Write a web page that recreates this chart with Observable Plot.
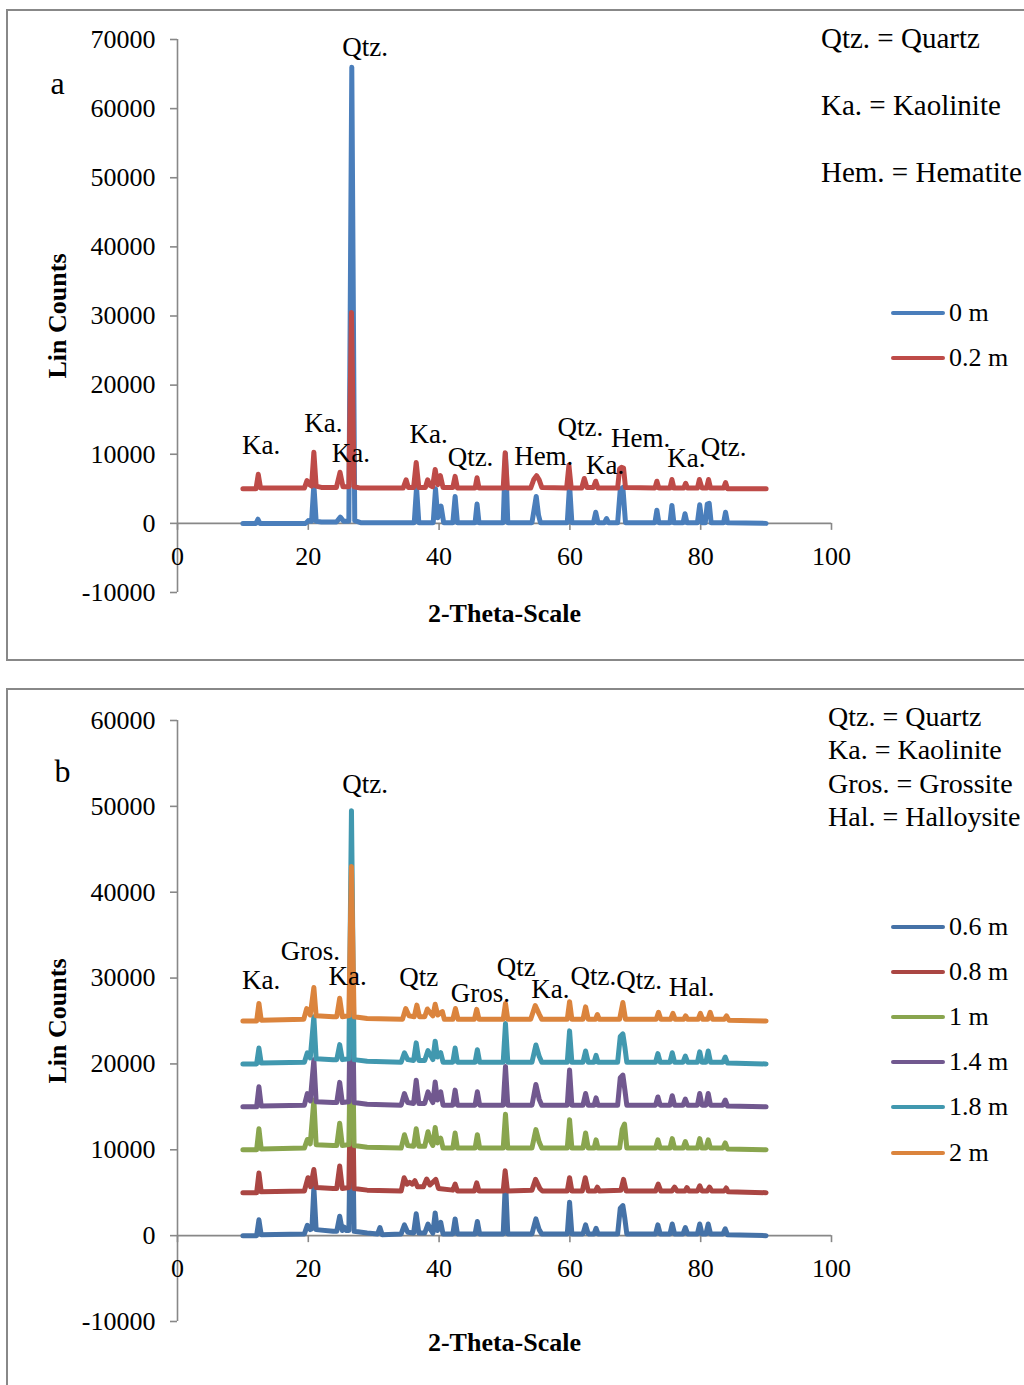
<!DOCTYPE html>
<html>
<head>
<meta charset="utf-8">
<script src="https://cdn.jsdelivr.net/npm/d3@7"></script>
<script src="https://cdn.jsdelivr.net/npm/@observablehq/plot@0.6"></script>
<style>
  html, body { margin: 0; padding: 0; background: #fff; }
  #page { position: relative; width: 1024px; height: 1385px; overflow: hidden;
          font-family: "Liberation Serif", "Times New Roman", serif; color: #000; }
  .frame { position: absolute; border: 2px solid #888; box-sizing: border-box; }
  .svgwrap { position: absolute; left: 0; }
  .key { position: absolute; white-space: nowrap; line-height: 32px; height: 32px; }
  .sw { position: absolute; height: 4px; border-radius: 2px; }
  .lt { position: absolute; font-size: 26px; white-space: nowrap; line-height: 30px; height: 30px; }
</style>
</head>
<body>
<div id="page">
  <div class="frame" style="left:6px;top:9px;width:1040px;height:652px;"></div>
  <div class="frame" style="left:6px;top:688px;width:1040px;height:740px;"></div>
  <div class="svgwrap" id="pa" style="top:0px;"></div>
  <div class="svgwrap" id="pb" style="top:689px;"></div>
</div>
<script>
// ---------- shared axis values ----------
const xTicks = [0, 20, 40, 60, 80, 100];
const yTicksA = [-10000, 0, 10000, 20000, 30000, 40000, 50000, 60000, 70000];
const yTicksB = [-10000, 0, 10000, 20000, 30000, 40000, 50000, 60000];

// ---------- panel a ----------
const seriesNamesA = ["0 m", "0.2 m"];
const colorsA = ["#4A7EBB", "#BE4B48"];
const keyA = ["Qtz. = Quartz", "Ka. = Kaolinite", "Hem. = Hematite"];
const labelsA = [
  ["Qtz.", 28.7, 68850], ["Ka.", 12.8, 11280], ["Ka.", 22.3, 14460], ["Ka.", 26.5, 10120],
  ["Ka.", 38.4, 12870], ["Qtz.", 44.8, 9550], ["Hem.", 56.0, 9690], ["Qtz.", 61.6, 13880],
  ["Hem.", 70.8, 12290], ["Ka.", 65.4, 8390], ["Ka.", 77.8, 9400], ["Qtz.", 83.5, 10990]
];
const a0m = [
  [10,0],[12.0,0],[12.3,600],[12.6,0],
  [19.6,0],[20.0,400],[20.5,300],[20.85,5600],[21.2,300],[22,200],
  [24.3,200],[24.9,900],[25.4,300],[26.2,300],[26.65,66000],[27.1,400],[28,100],
  [36.2,100],[36.55,5200],[36.9,100],
  [39.1,100],[39.45,5000],[39.8,800],[40.3,2500],[40.7,100],
  [42.1,100],[42.45,3900],[42.8,100],
  [45.5,100],[45.8,2800],[46.1,100],
  [49.8,100],[50.15,10100],[50.5,100],
  [54.2,100],[54.85,3900],[55.2,1200],[55.5,100],
  [59.6,100],[59.95,5600],[60.3,100],
  [63.6,100],[63.95,1600],[64.3,100],
  [65.3,100],[65.6,700],[65.9,100],
  [67.3,100],[67.7,4900],[68.1,5200],[68.5,100],
  [73.0,100],[73.3,1900],[73.6,100],
  [75.3,100],[75.6,2600],[75.9,100],
  [77.3,100],[77.6,1400],[77.9,100],
  [79.5,100],[79.85,2700],[80.2,100],
  [80.7,100],[81.0,2800],[81.3,2900],[81.6,100],
  [83.5,100],[83.8,1600],[84.1,100],
  [90,0]
];
const a02m = [
  [10,5000],[12.0,5000],[12.35,7100],[12.7,5100],
  [19.4,5100],[19.8,6200],[20.2,5600],[20.5,5400],[20.85,10300],[21.2,5400],[22,5200],
  [24.3,5200],[24.85,7400],[25.3,5300],[26.2,5300],[26.6,30500],[27.0,5300],[28,5100],
  [34.5,5100],[34.95,6300],[35.3,5200],[36.1,5200],[36.5,8800],[36.9,5200],
  [37.9,5200],[38.25,6300],[38.6,5500],[39.0,5300],[39.4,7800],[39.8,5600],[40.2,6900],[40.6,5200],
  [42.1,5200],[42.45,6800],[42.8,5100],
  [45.5,5100],[45.8,6600],[46.1,5100],
  [49.8,5100],[50.1,10200],[50.45,5100],
  [54.0,5100],[54.5,6400],[54.9,6900],[55.3,6300],[55.7,5200],
  [59.5,5100],[59.85,8400],[60.2,5100],
  [61.8,5100],[62.2,6500],[62.6,5200],[63.6,5200],[63.95,6100],[64.3,5100],
  [67.3,5100],[67.6,7900],[67.9,8100],[68.2,8000],[68.5,5200],
  [73.0,5100],[73.3,6100],[73.6,5100],
  [75.3,5100],[75.6,6350],[75.9,5100],
  [77.4,5100],[77.7,5800],[78.0,5100],
  [79.5,5100],[79.8,6350],[80.2,5100],
  [80.9,5100],[81.2,6350],[81.5,5100],
  [83.5,5100],[83.8,5900],[84.1,5000],
  [90,5000]
];

// ---------- panel b ----------
const seriesNamesB = ["0.6 m", "0.8 m", "1 m", "1.4 m", "1.8 m", "2 m"];
const colorsB = ["#4572A7", "#AA4643", "#89A54E", "#71588F", "#4198AF", "#DB843D"];
const keyB = ["Qtz. = Quartz", "Ka. = Kaolinite", "Gros. = Grossite", "Hal. = Halloysite"];
const labelsB = [
  ["Qtz.", 28.7, 52560], ["Gros.", 20.3, 33100], ["Ka.", 12.8, 29700], ["Ka.", 26.0, 30200],
  ["Qtz", 36.9, 30070], ["Gros.", 46.3, 28200], ["Qtz", 51.8, 31240], ["Ka.", 57.0, 28670],
  ["Qtz.", 63.6, 30190], ["Qtz.", 70.6, 29720], ["Hal.", 78.6, 28900]
];
const b06m = [
  [10,0],[12.1,0],[12.45,1850],[12.8,100],
  [19.4,200],[19.85,1200],[20.3,700],[20.55,800],[20.85,5600],[21.2,700],[23.8,500],
  [24.35,500],[24.8,2250],[25.2,600],[25.5,1000],[25.8,600],[26.2,600],[26.6,22000],[27.0,500],[29,300],
  [30.6,200],[30.95,950],[31.3,100],
  [34.2,200],[34.7,1250],[35.2,400],[36.1,300],[36.5,2550],[36.9,300],
  [37.8,300],[38.3,1350],[38.7,700],[39.05,300],[39.4,2650],[39.75,600],[40.25,1550],[40.6,200],
  [42.1,200],[42.45,1950],[42.8,200],
  [45.5,200],[45.85,1650],[46.2,200],
  [49.8,200],[50.15,6500],[50.5,200],
  [54.2,200],[54.8,1950],[55.3,700],[55.7,200],
  [59.6,200],[59.95,3900],[60.3,200],
  [62.0,200],[62.4,1250],[62.8,200],
  [63.7,200],[64.0,850],[64.3,200],
  [67.3,200],[67.7,3200],[68.1,3500],[68.4,2000],[68.7,200],
  [73.1,200],[73.45,1250],[73.8,200],
  [75.3,200],[75.65,1350],[76.0,200],
  [77.3,200],[77.65,950],[78.0,200],
  [79.5,200],[79.85,1350],[80.2,200],
  [80.8,200],[81.15,1350],[81.5,200],
  [83.4,200],[83.75,800],[84.1,100],
  [90,0]
];
const b08m = [
  [10,5000],[12.1,5000],[12.45,7300],[12.8,5100],
  [19.4,5200],[19.95,6750],[20.35,5700],[20.85,7700],[21.2,5600],[23.8,5500],
  [24.35,5500],[24.8,8100],[25.2,5500],[26.2,5600],[26.6,24000],[27.0,5500],[29,5300],
  [34.2,5200],[34.65,6750],[35.1,6000],[35.5,6200],[35.9,6000],[36.3,6400],[36.7,5700],
  [37.6,5700],[38.1,6600],[38.6,5900],[39.5,6550],[39.9,5500],
  [42.1,5300],[42.45,6000],[42.8,5200],
  [45.4,5200],[45.75,6150],[46.1,5200],
  [49.8,5200],[50.1,7550],[50.45,5200],
  [54.2,5300],[54.75,6550],[55.4,5500],[55.8,5200],
  [59.6,5200],[59.95,6750],[60.3,5200],
  [61.9,5200],[62.35,6750],[62.8,5200],
  [63.9,5200],[64.2,5650],[64.5,5200],
  [67.8,5300],[68.2,6550],[68.6,5200],
  [73.1,5200],[73.5,6000],[73.9,5200],
  [75.6,5200],[76.0,5650],[76.4,5200],
  [77.6,5200],[77.9,5600],[78.2,5200],
  [79.5,5200],[79.85,5800],[80.2,5200],
  [81.0,5200],[81.35,5650],[81.7,5200],
  [83.6,5200],[83.9,5550],[84.2,5100],
  [90,5000]
];
const b1m = [
  [10,10000],[12.1,10000],[12.45,12450],[12.8,10100],
  [19.4,10200],[19.85,11200],[20.3,10700],[20.85,15800],[21.2,10600],[23.8,10500],
  [24.35,10500],[24.8,13100],[25.2,10500],[26.2,10600],[26.6,30000],[27.0,10500],[29,10300],
  [34.2,10200],[34.7,11750],[35.2,10500],[36.1,10400],[36.5,12450],[36.9,10400],
  [37.8,10400],[38.3,12100],[38.7,11000],[39.05,10500],[39.4,12600],[39.75,10800],[40.25,11350],[40.6,10200],
  [42.1,10200],[42.45,11950],[42.8,10200],
  [45.5,10200],[45.85,11750],[46.2,10200],
  [49.8,10200],[50.15,14150],[50.5,10200],
  [54.2,10200],[54.8,12350],[55.3,10900],[55.7,10200],
  [59.6,10200],[59.95,13500],[60.3,10200],
  [62.0,10200],[62.4,11950],[62.8,10200],
  [63.7,10200],[64.0,11150],[64.3,10200],
  [67.6,10200],[68.0,12400],[68.35,13000],[68.7,10200],
  [73.1,10200],[73.45,11150],[73.8,10200],
  [75.3,10200],[75.65,11300],[76.0,10200],
  [77.3,10200],[77.65,10950],[78.0,10200],
  [79.5,10200],[79.85,11300],[80.2,10200],
  [80.8,10200],[81.15,11150],[81.5,10200],
  [83.4,10200],[83.75,10800],[84.1,10100],
  [90,10000]
];
const b14m = [
  [10,15000],[12.1,15000],[12.45,17350],[12.8,15100],
  [19.4,15200],[19.85,16550],[20.3,15700],[20.85,20500],[21.2,15600],[23.8,15500],
  [24.35,15500],[24.8,17850],[25.2,15500],[26.2,15600],[26.6,35000],[27.0,15500],[29,15300],
  [34.2,15200],[34.7,16550],[35.2,15500],[36.1,15400],[36.5,18100],[36.9,15400],
  [37.8,15400],[38.3,16750],[38.7,16000],[39.05,15500],[39.4,17900],[39.75,15800],[40.25,16750],[40.6,15200],
  [42.1,15200],[42.45,16950],[42.8,15200],
  [45.5,15200],[45.85,16750],[46.2,15200],
  [49.8,15200],[50.15,19700],[50.5,15200],
  [54.2,15200],[54.8,17600],[55.3,15900],[55.7,15200],
  [59.6,15200],[59.95,19300],[60.3,15200],
  [62.0,15200],[62.4,16550],[62.8,15200],
  [63.7,15200],[64.0,16050],[64.3,15200],
  [67.3,15200],[67.7,18400],[68.1,18700],[68.4,17000],[68.7,15200],
  [73.1,15200],[73.45,16150],[73.8,15200],
  [75.3,15200],[75.65,16300],[76.0,15200],
  [77.3,15200],[77.65,15900],[78.0,15200],
  [79.5,15200],[79.85,16550],[80.2,15200],
  [80.8,15200],[81.15,16550],[81.5,15200],
  [83.4,15200],[83.75,15800],[84.1,15100],
  [90,15000]
];
const b18m = [
  [10,20000],[12.1,20000],[12.45,21850],[12.8,20100],
  [19.4,20200],[19.85,21300],[20.3,20700],[20.85,25500],[21.2,20600],[23.8,20500],
  [24.35,20500],[24.8,22250],[25.2,20500],[26.2,20600],[26.6,49500],[27.0,20500],[29,20300],
  [34.2,20200],[34.7,21300],[35.2,20500],[36.1,20400],[36.5,22450],[36.9,20400],
  [37.8,20400],[38.3,21550],[38.7,21000],[39.05,20500],[39.4,22650],[39.75,20800],[40.25,21300],[40.6,20200],
  [42.1,20200],[42.45,21850],[42.8,20200],
  [45.5,20200],[45.85,21650],[46.2,20200],
  [49.8,20200],[50.15,24700],[50.5,20200],
  [54.2,20200],[54.8,22200],[55.3,20900],[55.7,20200],
  [59.6,20200],[59.95,23850],[60.3,20200],
  [62.0,20200],[62.4,21500],[62.8,20200],
  [63.7,20200],[64.0,21000],[64.3,20200],
  [67.3,20200],[67.7,23200],[68.1,23500],[68.4,22000],[68.7,20200],
  [73.1,20200],[73.45,21200],[73.8,20200],
  [75.3,20200],[75.65,21300],[76.0,20200],
  [77.3,20200],[77.65,20900],[78.0,20200],
  [79.5,20200],[79.85,21400],[80.2,20200],
  [80.8,20200],[81.15,21500],[81.5,20200],
  [83.4,20200],[83.75,20800],[84.1,20100],
  [90,20000]
];
const b2m = [
  [10,25000],[12.1,25000],[12.45,27050],[12.8,25100],
  [19.3,25200],[19.75,26450],[20.3,25700],[20.85,28900],[21.2,25600],[23.8,25500],
  [24.35,25500],[24.8,27650],[25.2,25500],[26.2,25600],[26.6,43000],[27.0,25500],[29,25300],
  [34.4,25200],[34.9,26450],[35.4,25600],[36.2,25500],[36.6,26850],[37.0,25500],
  [37.8,25500],[38.2,26400],[38.7,25900],[39.05,25600],[39.4,26950],[39.8,25700],[40.5,26100],[40.8,25200],
  [42.1,25200],[42.5,26450],[42.9,25200],
  [45.4,25200],[45.75,26350],[46.1,25200],
  [49.8,25200],[50.15,27050],[50.5,25200],
  [54.0,25200],[54.7,26800],[55.3,25800],[55.7,25200],
  [59.6,25200],[59.95,27250],[60.3,25200],
  [62.0,25200],[62.4,26650],[62.8,25200],
  [63.9,25200],[64.2,25750],[64.5,25200],
  [67.6,25200],[68.1,27150],[68.5,25200],
  [73.2,25200],[73.55,26000],[73.9,25200],
  [75.4,25200],[75.75,25900],[76.1,25200],
  [77.4,25200],[77.7,25600],[78.0,25200],
  [79.6,25200],[79.95,25900],[80.3,25200],
  [81.1,25200],[81.45,26000],[81.8,25200],
  [83.6,25200],[83.95,25600],[84.3,25100],
  [90,25000]
];

const seriesA = [a0m, a02m];
const seriesB = [b06m, b08m, b1m, b14m, b18m, b2m];

// ---------- drawing ----------
const AXIS = "#888888";
const FONT = "'Liberation Serif', 'Times New Roman', serif";

function makePanel({series, colors, yTicks, yDomain, labels, letter, letterDx, letterDy, height, marginTop, marginBottom}) {
  return Plot.plot({
    width: 1024,
    height,
    marginLeft: 177,
    marginRight: 193,
    marginTop,
    marginBottom,
    x: {domain: [0, 100], axis: null},
    y: {domain: yDomain, axis: null},
    style: {background: "transparent", fontFamily: FONT, overflow: "visible", color: "black"},
    marks: [
      // axis lines (Excel-style, crossing at zero)
      Plot.ruleX([0], {y1: yDomain[0], y2: yDomain[1], stroke: AXIS, strokeWidth: 1.6}),
      Plot.ruleY([0], {x1: 0, x2: 100, stroke: AXIS, strokeWidth: 1.6}),
      Plot.ruleY(yTicks, {y: d => d, x1: 0, x2: 0, insetLeft: -7, stroke: AXIS, strokeWidth: 1.6}),
      Plot.ruleX(xTicks, {x: d => d, y1: 0, y2: 0, insetBottom: -7, stroke: AXIS, strokeWidth: 1.6}),
      // series
      ...series.map((s, i) => Plot.line(s, {
        x: d => d[0], y: d => d[1], stroke: colors[i], strokeWidth: 5,
        strokeLinejoin: "round", strokeLinecap: "round"
      })),
      // tick labels
      Plot.text(yTicks, {x: 0, y: d => d, text: d => String(d), dx: -22, textAnchor: "end", fontSize: 26, fill: "black"}),
      Plot.text(xTicks, {x: d => d, y: 0, text: d => String(d), dy: 33, fontSize: 26, fill: "black"}),
      // peak annotations
      Plot.text(labels, {x: d => d[1], y: d => d[2], text: d => d[0], fontSize: 27, fill: "black"}),
      // axis titles
      Plot.text(["Lin Counts"], {frameAnchor: "left", dx: -120, rotate: -90, textAnchor: "middle", lineAnchor: "middle",
        fontWeight: "bold", fontSize: 26, fill: "black"}),
      Plot.text(["2-Theta-Scale"], {frameAnchor: "bottom", dy: 21, textAnchor: "middle", lineAnchor: "middle",
        fontWeight: "bold", fontSize: 26, fill: "black"}),
      // panel letter
      Plot.text([letter], {frameAnchor: "top-left", dx: letterDx, dy: letterDy, textAnchor: "middle", lineAnchor: "middle",
        fontSize: 32, fill: "black"})
    ]
  });
}

document.getElementById("pa").appendChild(makePanel({
  series: seriesA, colors: colorsA, yTicks: yTicksA, yDomain: [-10000, 70000], labels: labelsA,
  letter: "a", letterDx: -120, letterDy: 44, height: 660, marginTop: 39, marginBottom: 68
}));
document.getElementById("pb").appendChild(makePanel({
  series: seriesB, colors: colorsB, yTicks: yTicksB, yDomain: [-10000, 60000], labels: labelsB,
  letter: "b", letterDx: -115, letterDy: 51, height: 696, marginTop: 31, marginBottom: 64
}));

// ---------- keys and legends (HTML) ----------
const page = document.getElementById("page");
function addKey(lines, left, top0, step, size) {
  lines.forEach((t, i) => {
    const d = document.createElement("div");
    d.className = "key";
    d.style.left = left + "px";
    d.style.top = (top0 + i * step - 16) + "px";
    d.style.fontSize = size + "px";
    d.textContent = t;
    page.appendChild(d);
  });
}
function addLegend(names, colors, top0, step) {
  names.forEach((n, i) => {
    const y = top0 + i * step;
    const s = document.createElement("div");
    s.className = "sw";
    s.style.left = "891px"; s.style.width = "54px";
    s.style.top = (y - 2) + "px";
    s.style.background = colors[i];
    page.appendChild(s);
    const t = document.createElement("div");
    t.className = "lt";
    t.style.left = "949px";
    t.style.top = (y - 15) + "px";
    t.textContent = n;
    page.appendChild(t);
  });
}
addKey(keyA, 821, 38, 67, 29);
addKey(keyB, 828, 717, 33.3, 28);
addLegend(seriesNamesA, colorsA, 312.5, 45.3);
addLegend(seriesNamesB, colorsB, 927, 45.1);
</script>
</body>
</html>
